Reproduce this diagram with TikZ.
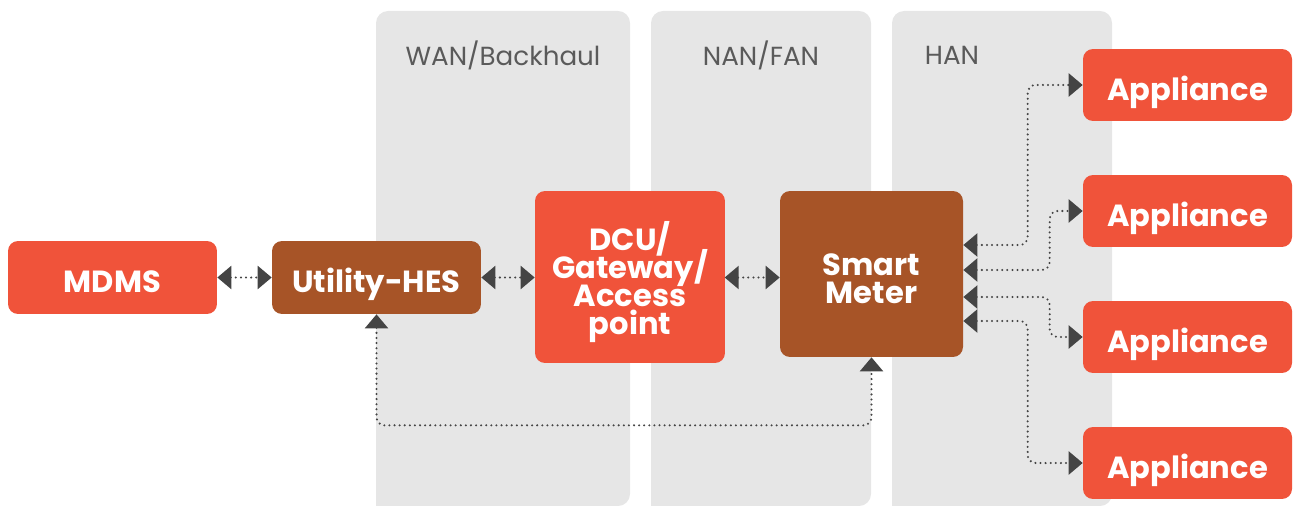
\documentclass[tikz,border=0pt]{standalone}
\usepackage{fontspec}
\setmainfont{Poppins}
\usetikzlibrary{arrows.meta,calc}
\definecolor{boxred}{HTML}{F0533A}
\definecolor{boxbrown}{HTML}{A75427}
\definecolor{colgray}{HTML}{E6E6E6}
\definecolor{conngray}{HTML}{444444}
\definecolor{labgray}{HTML}{5A5A5A}
\newcommand{\mytightlines}{\lineskiplimit=-30pt\relax\lineskip=0pt\relax}
\tikzset{
  redbox/.style={fill=boxred, rounded corners=0.2cm, text=white, align=center,
    font=\bfseries\fontsize{17.4}{15.9}\selectfont\mytightlines,
    inner sep=0pt, text height=17.8pt, text depth=0.6pt},
  brownbox/.style={redbox, fill=boxbrown},
  collabel/.style={text=labgray, font=\fontsize{14.9}{16}\selectfont, inner sep=0pt},
  conn/.style={draw=conngray, line width=1.3pt, line cap=round,
    dash pattern=on 0pt off 2.9pt, rounded corners=0.16cm,
    {Triangle[length=0.28cm,width=0.46cm,fill=conngray]}-{Triangle[length=0.28cm,width=0.46cm,fill=conngray]}},
}
\begin{document}
\begin{tikzpicture}[x=0.02cm,y=-0.02cm]
\useasboundingbox (0,0) rectangle (1293,506);
% columns
\fill[colgray] (376,506) [rounded corners=0.24cm] |- (503,11) -| (630,506) [sharp corners] -- cycle;
\fill[colgray] (651,506) [rounded corners=0.24cm] |- (761,11) -| (871,506) [sharp corners] -- cycle;
\fill[colgray] (892,506) [rounded corners=0.24cm] |- (1002,11) -| (1112,506) [sharp corners] -- cycle;
\node[collabel] (lwan) at (503,55) {WAN/Backhaul};
\node[collabel] (lnan) at (761,55) {NAN/FAN};
\node[collabel] (lhan) at (952,55) {HAN};
% boxes
\node[redbox, minimum width=4.18cm, minimum height=1.46cm] (MDMS) at (112.5,277.5) {MDMS};
\node[brownbox, minimum width=4.18cm, minimum height=1.46cm] (HES) at (376.5,277.5) {Utility-HES};
\node[redbox, text height=66.3pt, text depth=0.5pt, minimum width=3.8cm, minimum height=3.44cm] (DCU) at (630,277) {DCU/\\Gateway/\\Access\\point};
\node[brownbox, text height=34.5pt, text depth=0.5pt, minimum width=3.66cm, minimum height=3.32cm] (SM) at (871.5,274) {Smart\\Meter};
\foreach \i/\yy in {1/85,2/211,3/337,4/463}{
  \node[redbox, minimum width=4.18cm, minimum height=1.44cm] (A\i) at (1187.5,\yy) {Appliance};
}
% connectors
\draw[conn] (MDMS.east) -- (HES.west);
\draw[conn] (HES.east) -- (DCU.west |- HES.east);
\draw[conn] (DCU.west |- HES.east) ++(190,0) coordinate (dcuE) (dcuE) -- (SM.west |- dcuE);
\draw[conn] (HES.south) -- ++(0,111) -| (SM.south);
\draw[conn] ($(SM.east)+(0,-29)$) -| ($(A1.west)+(-55,0)$) -- (A1.west);
\draw[conn] ($(SM.east)+(0,-4)$) -| ($(A2.west)+(-33,0)$) -- (A2.west);
\draw[conn] ($(SM.east)+(0,23)$) -| ($(A3.west)+(-33,0)$) -- (A3.west);
\draw[conn] ($(SM.east)+(0,47)$) -| ($(A4.west)+(-55,0)$) -- (A4.west);
\end{tikzpicture}
\end{document}
